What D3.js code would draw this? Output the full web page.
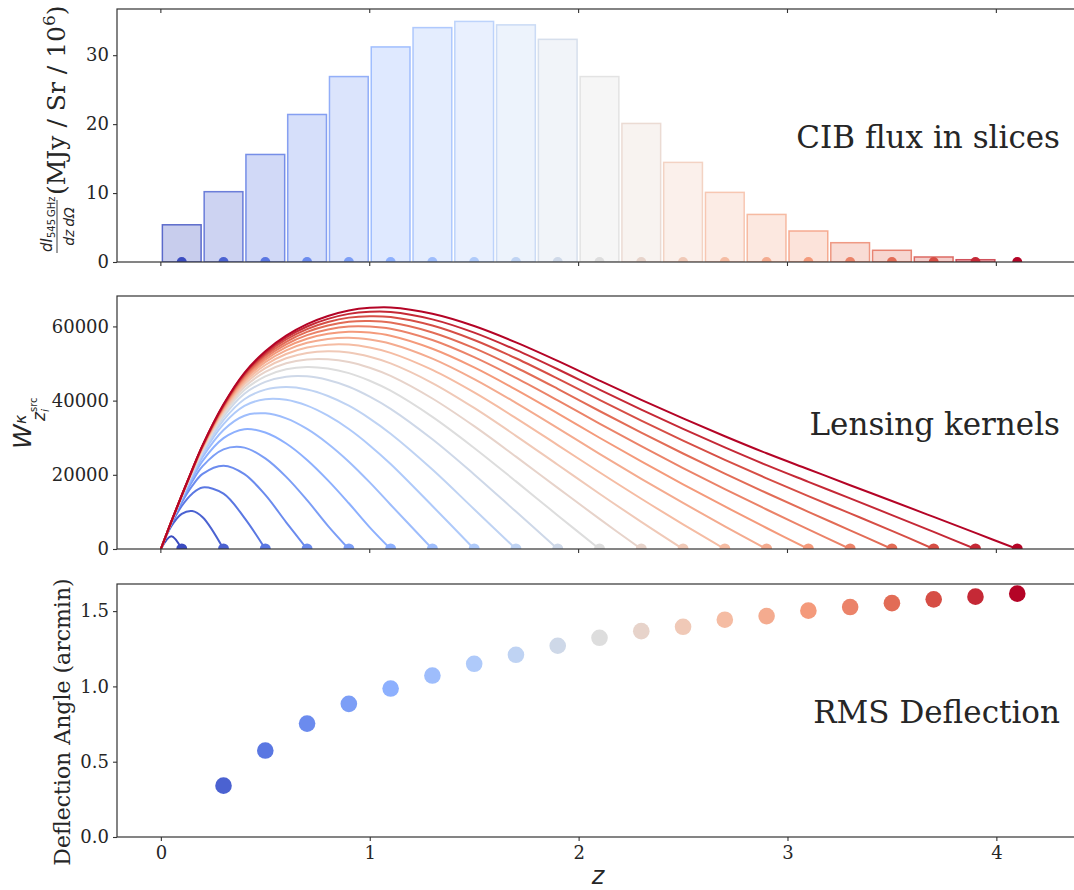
<!DOCTYPE html>
<html>
<head>
<meta charset="utf-8">
<script src="https://cdn.jsdelivr.net/npm/d3@7"></script>
<style>
  body { margin: 0; background: #fff; }
  text { font-family: "DejaVu Serif", serif; fill: #262626; }
  .math { font-family: "DejaVu Sans", sans-serif; font-style: italic; }
  .mrm { font-family: "DejaVu Sans", sans-serif; font-style: normal; }
</style>
</head>
<body>
<svg id="chart" width="1074" height="890"></svg>
<script>
// ---- data ----
const sliceZ = [0.1, 0.3, 0.5, 0.7, 0.9, 1.1, 1.3, 1.5, 1.7, 1.9, 2.1, 2.3, 2.5, 2.7, 2.9, 3.1, 3.3, 3.5, 3.7, 3.9, 4.1];
const sliceFlux = [5.4, 10.2, 15.6, 21.4, 26.9, 31.2, 34.0, 34.9, 34.4, 32.3, 26.9, 20.1, 14.45, 10.1, 6.9, 4.5, 2.8, 1.7, 0.73, 0.33, 0];

// lensing kernels: shared z grid, one row per source slice (row i ends at sliceZ[i])
const kernelZ = [0, 0.05, 0.1, 0.15, 0.2, 0.3, 0.4, 0.5, 0.6, 0.7, 0.8, 0.9, 1.0, 1.1, 1.3, 1.5, 1.7, 1.9, 2.1, 2.3, 2.5, 2.7, 2.9, 3.1, 3.3, 3.5, 3.7, 3.9, 4.1];
const kernelW = [
  [0, 3450, 0],
  [0, 6120, 9460, 10220, 8550, 0],
  [0, 6670, 11600, 14920, 16600, 14930, 8390, 0],
  [0, 6910, 12540, 17000, 20250, 22470, 20200, 14570, 7200, 0],
  [0, 7040, 13070, 18190, 22340, 26860, 27330, 24420, 19450, 13170, 6250, 0],
  [0, 7130, 13440, 19010, 23770, 29890, 32300, 31400, 28440, 24010, 18510, 12330, 5840, 0],
  [0, 7200, 13700, 19600, 24800, 32100, 35930, 36570, 35200, 32360, 28380, 23530, 17950, 11930, 0],
  [0, 7250, 13890, 20020, 25540, 33680, 38580, 40380, 40220, 38640, 35930, 32340, 27920, 22900, 11590, 0],
  [0, 7280, 14010, 20300, 26040, 34760, 40380, 42970, 43660, 43000, 41250, 38620, 35160, 31080, 21420, 10720, 0],
  [0, 7300, 14110, 20520, 26440, 35620, 41830, 45050, 46460, 46540, 45560, 43750, 41080, 37790, 29580, 20110, 10080, 0],
  [0, 7320, 14180, 20670, 26720, 36220, 42840, 46530, 48430, 49050, 48640, 47410, 45350, 42660, 35610, 27240, 18230, 9050, 0],
  [0, 7330, 14240, 20800, 26950, 36720, 43680, 47730, 50050, 51110, 51170, 50430, 48860, 46670, 40570, 33110, 24900, 16480, 8110, 0],
  [0, 7340, 14290, 20910, 27140, 37140, 44370, 48750, 51410, 52840, 53290, 52950, 51800, 50020, 44730, 38020, 30510, 22710, 14900, 7320, 0],
  [0, 7350, 14330, 21000, 27300, 37490, 44960, 49610, 52560, 54310, 55090, 55100, 54300, 52880, 48270, 42200, 35290, 28010, 20680, 13540, 6660, 0],
  [0, 7360, 14360, 21080, 27440, 37790, 45480, 50360, 53560, 55580, 56640, 56950, 56450, 55340, 51320, 45800, 39390, 32590, 25670, 18930, 12410, 6120, 0],
  [0, 7370, 14390, 21150, 27560, 38060, 45930, 51000, 54420, 56680, 58000, 58560, 58330, 57480, 53970, 48950, 42970, 36560, 29990, 23590, 17410, 11460, 5660, 0],
  [0, 7380, 14420, 21210, 27670, 38290, 46310, 51570, 55190, 57650, 59180, 59990, 59980, 59370, 56320, 51700, 46130, 40070, 33810, 27710, 21820, 16150, 10650, 5310, 0],
  [0, 7380, 14440, 21270, 27770, 38490, 46660, 52070, 55860, 58520, 60240, 61250, 61450, 61050, 58380, 54150, 48930, 43180, 37200, 31360, 25740, 20320, 15090, 10020, 5030, 0],
  [0, 7390, 14460, 21310, 27850, 38680, 46970, 52520, 56470, 59280, 61180, 62370, 62760, 62540, 60240, 56350, 51420, 45940, 40220, 34620, 29220, 24040, 19040, 14250, 9600, 4900, 0],
  [0, 7390, 14480, 21360, 27930, 38850, 47260, 52930, 57010, 59980, 62030, 63380, 63930, 63880, 61900, 58320, 53670, 48450, 42950, 37560, 32370, 27380, 22600, 18100, 13650, 9150, 4600, 0],
  [0, 7400, 14500, 21400, 28000, 39000, 47500, 53300, 57500, 60600, 62800, 64300, 65000, 65100, 63400, 60100, 55700, 50700, 45400, 40200, 35200, 30400, 25800, 21500, 17200, 12950, 8650, 4330, 0]
];

const deflZ = [0.3, 0.5, 0.7, 0.9, 1.1, 1.3, 1.5, 1.7, 1.9, 2.1, 2.3, 2.5, 2.7, 2.9, 3.1, 3.3, 3.5, 3.7, 3.9, 4.1];
const deflAngle = [0.341, 0.574, 0.753, 0.884, 0.986, 1.072, 1.150, 1.210, 1.270, 1.323, 1.367, 1.396, 1.443, 1.467, 1.503, 1.527, 1.553, 1.578, 1.596, 1.616];

const xTicks = [0, 1, 2, 3, 4];
const fluxTicks = [0, 10, 20, 30];
const kernelTicks = [0, 20000, 40000, 60000];
const deflTicks = [0, 0.5, 1.0, 1.5];

// matplotlib "coolwarm" anchor colours
const coolwarmStops = ["#3b4cc0", "#6282ea", "#8db0fe", "#b8d0f9", "#dddddd", "#f5c4ad", "#f49a7b", "#de604d", "#b40426"];
const coolwarm = d3.scaleLinear()
  .domain(coolwarmStops.map((d, i) => i / (coolwarmStops.length - 1)))
  .range(coolwarmStops)
  .interpolate(d3.interpolateRgb);
const sliceColor = i => coolwarm(i / (sliceZ.length - 1));

// ---- layout ----
const svg = d3.select("#chart");
const left = 117, right = 1082;
const x = d3.scaleLinear().domain([-0.21, 4.41]).range([left, right]);

const panels = [
  { top: 9, height: 253 },
  { top: 296, height: 253 },
  { top: 584, height: 253 }
];

const yFlux = d3.scaleLinear().domain([0, 36.7]).range([panels[0].top + panels[0].height, panels[0].top]);
const yKern = d3.scaleLinear().domain([0, 68200]).range([panels[1].top + panels[1].height, panels[1].top]);
const yDefl = d3.scaleLinear().domain([0, 1.68]).range([panels[2].top + panels[2].height, panels[2].top]);

const defs = svg.append("defs");
panels.forEach((p, i) => {
  defs.append("clipPath").attr("id", "clip" + i)
    .append("rect").attr("x", left).attr("y", p.top)
    .attr("width", right - left).attr("height", p.height);
});

function styleAxis(g) {
  g.select(".domain").remove();
  g.selectAll(".tick line").attr("stroke", "#333").attr("stroke-width", 1.1);
  g.selectAll(".tick text")
    .style("font-family", "'DejaVu Serif', serif")
    .style("font-size", "18px")
    .attr("fill", "#262626");
}

function drawYAxis(y, ticks, fmt) {
  svg.append("g")
    .attr("transform", `translate(${left},0)`)
    .call(d3.axisLeft(y).tickValues(ticks).tickSize(4).tickPadding(4).tickFormat(fmt))
    .call(styleAxis);
}

function drawFrame(p) {
  svg.append("rect")
    .attr("x", left).attr("y", p.top)
    .attr("width", right - left).attr("height", p.height)
    .attr("fill", "none").attr("stroke", "#333").attr("stroke-width", 1.2);
}

// ---- panel 1: CIB flux in slices ----
const g1 = svg.append("g").attr("clip-path", "url(#clip0)");
const barW = x(0.2) - x(0);
g1.selectAll("rect.slice")
  .data(sliceZ.map((z, i) => ({ z, v: sliceFlux[i], i })).filter(d => d.v > 0))
  .join("rect")
  .attr("class", "slice")
  .attr("x", d => x(d.z - 0.1) + 1.5)
  .attr("width", barW - 3)
  .attr("y", d => yFlux(d.v))
  .attr("height", d => yFlux(0) - yFlux(d.v))
  .attr("fill", d => sliceColor(d.i))
  .attr("fill-opacity", 0.28)
  .attr("stroke", d => sliceColor(d.i))
  .attr("stroke-opacity", 0.8)
  .attr("stroke-width", 1.5);

g1.selectAll("circle")
  .data(sliceZ)
  .join("circle")
  .attr("cx", d => x(d))
  .attr("cy", yFlux(0))
  .attr("r", 5)
  .attr("fill", (d, i) => sliceColor(i));

drawFrame(panels[0]);
drawYAxis(yFlux, fluxTicks, d3.format("d"));
// ticks on the shared x axis (top inward, bottom outward)
svg.append("g").selectAll("line").data(xTicks).join("line")
  .attr("x1", d => x(d)).attr("x2", d => x(d))
  .attr("y1", panels[0].top).attr("y2", panels[0].top + 4)
  .attr("stroke", "#333").attr("stroke-width", 1.1);

// ---- panel 2: lensing kernels ----
const g2 = svg.append("g").attr("clip-path", "url(#clip1)");
const kernelLine = d3.line()
  .x(d => x(d[0]))
  .y(d => yKern(d[1]))
  .curve(d3.curveCatmullRom.alpha(0.5));

kernelW.forEach((row, i) => {
  const pts = row.map((w, j) => [kernelZ[j], w]);
  g2.append("path")
    .attr("d", kernelLine(pts))
    .attr("fill", "none")
    .attr("stroke", sliceColor(i))
    .attr("stroke-width", 2);
});

g2.selectAll("circle")
  .data(sliceZ)
  .join("circle")
  .attr("cx", d => x(d))
  .attr("cy", yKern(0))
  .attr("r", 5.5)
  .attr("fill", (d, i) => sliceColor(i));

drawFrame(panels[1]);
drawYAxis(yKern, kernelTicks, d3.format("d"));

[panels[0], panels[1]].forEach(p => {
  svg.append("g").selectAll("line").data(xTicks).join("line")
    .attr("x1", d => x(d)).attr("x2", d => x(d))
    .attr("y1", p.top + p.height).attr("y2", p.top + p.height + 4)
    .attr("stroke", "#333").attr("stroke-width", 1.1);
});

// ---- panel 3: RMS deflection ----
const g3 = svg.append("g").attr("clip-path", "url(#clip2)");
g3.selectAll("circle")
  .data(deflZ.map((z, i) => ({ z, a: deflAngle[i] })))
  .join("circle")
  .attr("cx", d => x(d.z))
  .attr("cy", d => yDefl(d.a))
  .attr("r", 8.3)
  .attr("fill", d => sliceColor(sliceZ.indexOf(d.z)));

drawFrame(panels[2]);
drawYAxis(yDefl, deflTicks, d3.format(".1f"));
svg.append("g")
  .attr("transform", `translate(0,${panels[2].top + panels[2].height})`)
  .call(d3.axisBottom(x).tickValues(xTicks).tickSize(4).tickPadding(5).tickFormat(d3.format("d")))
  .call(styleAxis);

// ---- panel titles ----
const titles = [
  { text: "CIB flux in slices", y: 148 },
  { text: "Lensing kernels", y: 435 },
  { text: "RMS Deflection", y: 723 }
];
svg.selectAll("text.title").data(titles).join("text")
  .attr("class", "title")
  .attr("x", 1060).attr("y", d => d.y)
  .attr("text-anchor", "end")
  .style("font-size", "31px")
  .attr("fill", "#111")
  .text(d => d.text);

// ---- axis labels ----
// x label
svg.append("text")
  .attr("class", "math")
  .attr("x", 598).attr("y", 884)
  .attr("text-anchor", "middle")
  .style("font-size", "24px")
  .text("z");

// top y label: d I_545GHz / dz dΩ (MJy / Sr / 10^6)
const yl1 = svg.append("g").attr("transform", "translate(65,131) rotate(-90)");
yl1.append("line")
  .attr("x1", -122).attr("x2", -69).attr("y1", -8).attr("y2", -8)
  .attr("stroke", "#262626").attr("stroke-width", 0.9);
const num = yl1.append("text").attr("x", -121).attr("y", -13);
num.append("tspan").attr("class", "math").style("font-size", "15px").text("dI");
num.append("tspan").attr("class", "mrm").style("font-size", "10px").attr("dy", 3).text("545\u2009GHz");
yl1.append("text").attr("class", "math")
  .attr("x", -95.5).attr("y", 9).attr("text-anchor", "middle")
  .style("font-size", "14px").text("dz\u2009d\u03a9");
const unit = yl1.append("text").attr("x", -64).attr("y", 0).style("font-size", "25px");
unit.append("tspan").text("(MJy / Sr / 10");
unit.append("tspan").style("font-size", "17px").attr("dy", -10).text("6");
unit.append("tspan").attr("dy", 10).text(")");

// middle y label: W^kappa_{z_i^src}
const yl2 = svg.append("g").attr("transform", "translate(31,423) rotate(-90)");
yl2.append("text").attr("class", "math").attr("x", -26).attr("y", 0).style("font-size", "25px").text("W");
yl2.append("text").attr("class", "math").attr("x", -1).attr("y", -5).style("font-size", "16px").text("\u03ba");
yl2.append("text").attr("class", "math").attr("x", 2).attr("y", 14).style("font-size", "17px").text("z");
yl2.append("text").attr("class", "math").attr("x", 11).attr("y", 18).style("font-size", "11px").text("i");
yl2.append("text").attr("class", "mrm").attr("x", 11).attr("y", 6).style("font-size", "10px").text("src");

// bottom y label
svg.append("text")
  .attr("transform", "translate(70,722) rotate(-90)")
  .attr("text-anchor", "middle")
  .style("font-size", "22px")
  .text("Deflection Angle (arcmin)");
</script>
</body>
</html>
